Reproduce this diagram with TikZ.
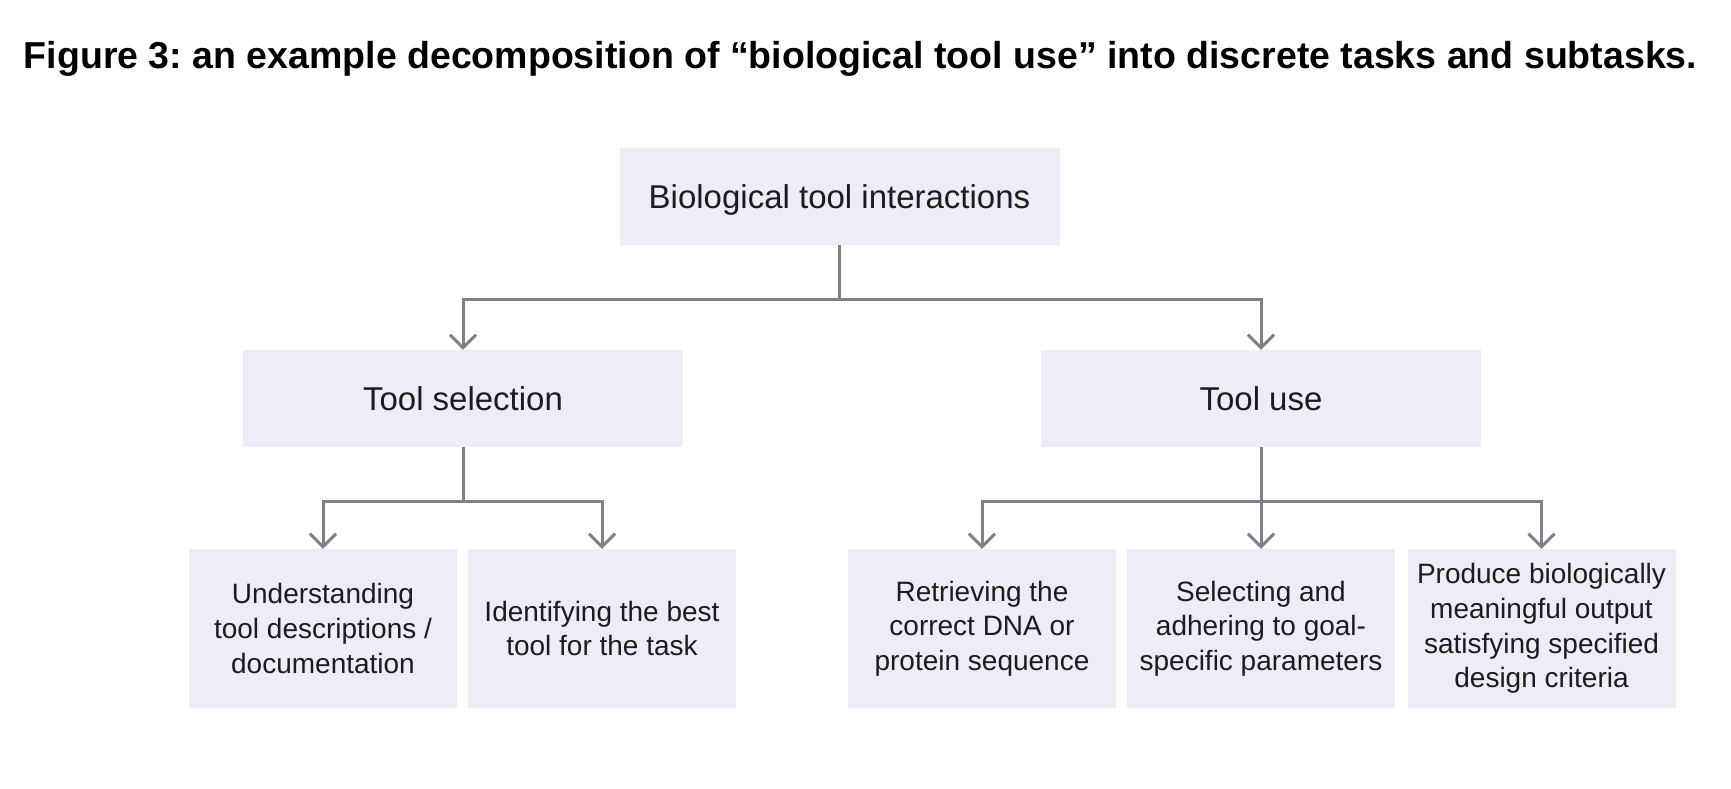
\documentclass[tikz,border=0pt]{standalone}
\usepackage{fontspec}
\setmainfont{Liberation Sans}
\usetikzlibrary{arrows.meta}
\definecolor{boxfill}{RGB}{239,235,247}
\definecolor{linecol}{RGB}{130,126,138}
\definecolor{txt}{RGB}{28,28,30}
\frenchspacing
\begin{document}
\begin{tikzpicture}[x=1pt,y=-1pt,
  box/.style={fill=boxfill,draw=none,inner sep=0pt,align=center,text=txt},
  bigbox/.style={box,minimum width=440pt,minimum height=97pt,text height=24pt,text depth=0pt,font=\fontsize{33}{40}\selectfont},
  smallbox/.style={box,minimum width=268pt,minimum height=159pt,font=\fontsize{28}{34.7}\selectfont},
  conn/.style={draw=linecol,line width=3pt},
  arr/.style={conn,-{Straight Barb[length=13pt,width=26pt,line width=3pt]}}]
\useasboundingbox (0,0) rectangle (1731,788);
\node[anchor=base,font=\fontsize{37.5}{44}\selectfont\bfseries] (title) at (860.5,68) {Figure 3: an example decomposition of “biological tool use” into discrete tasks and subtasks.};
\node[bigbox] (top) at (839.5,196) {Biological tool interactions};
\node[bigbox] (sel) at (463,398.5) {Tool selection};
\node[bigbox] (use) at (1261,398.5) {Tool use};
\node[smallbox] (b1) at (323,628.5) {Understanding\\tool descriptions /\\documentation};
\node[smallbox] (b2) at (602,628.5) {Identifying the best\\tool for the task};
\node[smallbox] (b3) at (982,628.5) {Retrieving the\\correct DNA or\\protein sequence};
\node[smallbox] (b4) at (1261,628.5) {Selecting and\\adhering to goal-\\specific parameters};
\node[smallbox] (b5) at (1541.5,628.5) {Produce biologically\\meaningful output\\satisfying specified\\design criteria};
\coordinate (j1) at (839.5,299);
\coordinate (j2) at (463,501);
\coordinate (j3) at (1261,501);
\draw[conn] (top.south) -- (j1);
\draw[arr] (j1) -| (sel.north);
\draw[arr] (j1) -| (use.north);
\draw[conn] (sel.south) -- (j2);
\draw[arr] (j2) -| (b1.north);
\draw[arr] (j2) -| (b2.north);
\draw[conn] (use.south) -- (j3);
\draw[arr] (j3) -| (b3.north);
\draw[arr] (j3) -- (b4.north);
\draw[arr] (j3) -| (b5.north);
\end{tikzpicture}
\end{document}
